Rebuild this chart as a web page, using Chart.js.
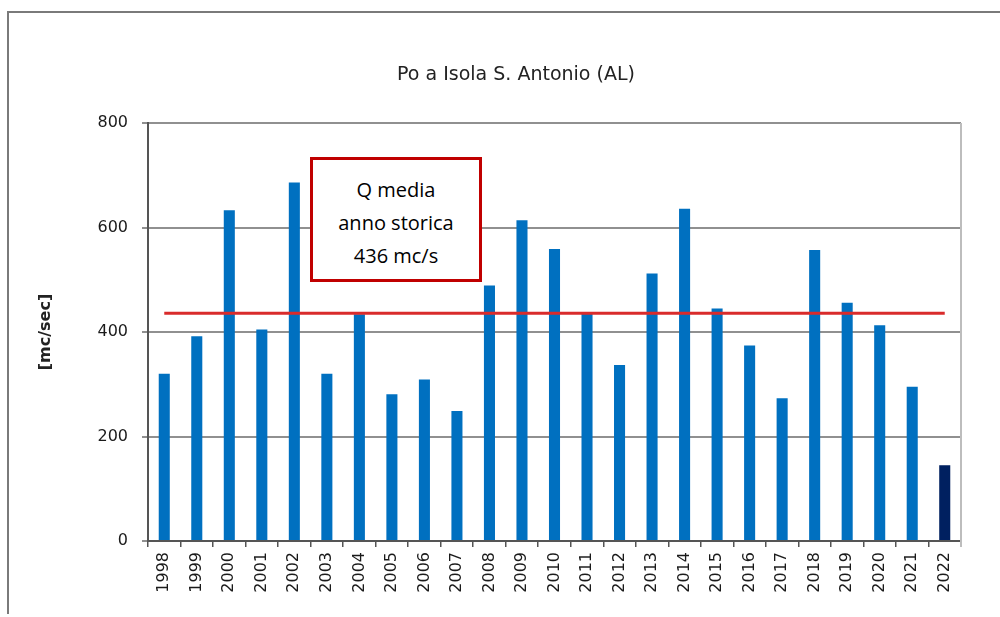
<!DOCTYPE html>
<html>
<head>
<meta charset="utf-8">
<script src="https://cdn.jsdelivr.net/npm/chart.js@4/dist/chart.umd.min.js"></script>
<style>
    html, body { margin: 0; padding: 0; background: #fff; }
    #wrap { position: relative; width: 1000px; height: 617px; overflow: hidden; }
    #frame {
        position: absolute; left: 7px; top: 11px; width: 1000px; height: 601px;
        border-left: 2px solid #7a7a7a; border-top: 2px solid #7a7a7a;
    }
    #note {
        position: absolute; left: 310px; top: 157px; width: 166px; height: 106px;
        border: 3px solid #c00000; background: #fff;
        font-family: "Open Sans", sans-serif; font-size: 20px; color: #000;
        text-align: center; line-height: 33px; padding-top: 13px;
    }
</style>
</head>
<body>
<div id="wrap">
    <div id="frame"></div>
    <canvas id="flowChart" width="1000" height="617"></canvas>
    <div id="note">Q media<br>anno storica<br>436 mc/s</div>
</div>
<script>
// portate medie annue [mc/sec]
const years = ['1998', '1999', '2000', '2001', '2002', '2003', '2004', '2005', '2006', '2007',
    '2008', '2009', '2010', '2011', '2012', '2013', '2014', '2015', '2016', '2017',
    '2018', '2019', '2020', '2021', '2022'];
const flows = [320, 392, 633, 405, 686, 320, 434, 281, 309, 249,
    489, 614, 559, 436, 337, 512, 636, 445, 374, 273,
    557, 456, 413, 295, 145];
const mediaStorica = 436;
const yTicks = [0, 200, 400, 600, 800];
const chartTitle = 'Po a Isola S. Antonio (AL)';

const barColors = years.map(function (y) {
    return y === '2022' ? '#002060' : '#0070c0';
});

// titolo + bordo destro area grafico
const extras = {
    id: 'extras',
    afterDraw: function (chart) {
        const ctx = chart.ctx;
        const area = chart.chartArea;
        ctx.save();
        ctx.strokeStyle = '#bdbdbd';
        ctx.lineWidth = 2;
        ctx.beginPath();
        ctx.moveTo(area.right, area.top);
        ctx.lineTo(area.right, area.bottom + 6);
        ctx.stroke();

        ctx.fillStyle = '#222';
        ctx.font = '19px "DejaVu Sans"';
        ctx.textAlign = 'center';
        ctx.textBaseline = 'middle';
        ctx.fillText(chartTitle, 516, 75);
        ctx.restore();
    }
};

const config = {
    type: 'bar',
    data: {
        labels: years,
        datasets: [{
            type: 'line',
            label: 'Q media storica',
            data: years.map(function () { return mediaStorica; }),
            borderColor: '#d92b2b',
            borderWidth: 3,
            pointRadius: 0,
            order: 0
        }, {
            label: 'Q media annua',
            data: flows,
            backgroundColor: barColors,
            categoryPercentage: 1,
            barPercentage: 0.34,
            order: 1
        }]
    },
    options: {
        responsive: false,
        animation: false,
        layout: { padding: { left: 32, right: 39, top: 123, bottom: 8 } },
        plugins: {
            legend: { display: false },
            tooltip: { enabled: false }
        },
        scales: {
            x: {
                grid: { drawOnChartArea: false, drawTicks: true, tickLength: 6, color: '#555', lineWidth: 1.5 },
                border: { color: '#555', width: 2 },
                ticks: {
                    font: { family: 'DejaVu Sans', size: 16 },
                    color: '#1a1a1a',
                    minRotation: 90,
                    maxRotation: 90,
                    autoSkip: false,
                    padding: 5
                },
                afterFit: function (s) { s.height = 68; }
            },
            y: {
                min: 0,
                max: 800,
                afterBuildTicks: function (s) {
                    s.ticks = yTicks.map(function (v) { return { value: v }; });
                },
                grid: { color: '#909090', lineWidth: 2, tickLength: 6 },
                border: { color: '#555', width: 2 },
                ticks: {
                    font: { family: 'DejaVu Sans', size: 16 },
                    color: '#1a1a1a',
                    padding: 14
                },
                title: {
                    display: true,
                    text: '[mc/sec]',
                    font: { family: 'DejaVu Sans', size: 16, weight: 'bold' },
                    color: '#222',
                    padding: { top: 4, bottom: 0 }
                },
                afterFit: function (s) { s.width = 116; }
            }
        }
    },
    plugins: [extras]
};

const flowChart = new Chart(document.getElementById('flowChart'), config);
</script>
</body>
</html>
